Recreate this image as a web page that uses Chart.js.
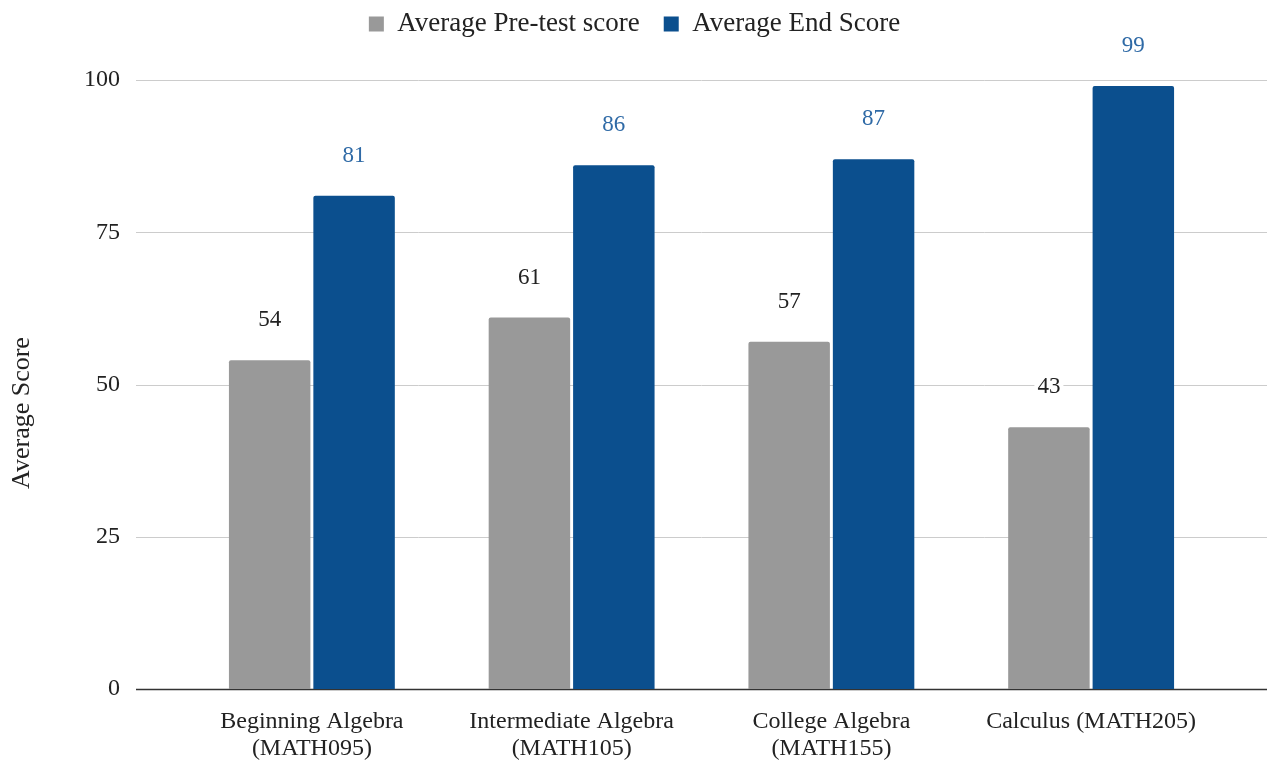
<!DOCTYPE html>
<html>
<head>
<meta charset="utf-8">
<script src="https://cdn.jsdelivr.net/npm/chart.js@4/dist/chart.umd.min.js"></script>
<style>
  html, body { margin: 0; padding: 0; background: #fff; }
  #wrap { width: 1267px; height: 763px; position: relative; }
</style>
</head>
<body>
<div id="wrap"><canvas id="c"></canvas></div>
<script>
const categories = [
  ['Beginning Algebra', '(MATH095)'],
  ['Intermediate Algebra', '(MATH105)'],
  ['College Algebra', '(MATH155)'],
  'Calculus (MATH205)'
];
const preTestScores = [54, 61, 57, 43];
const endScores = [81, 86, 87, 99];
const yTicks = [0, 25, 50, 75, 100];
const yTitle = 'Average Score';

const FONT = "'Liberation Serif', 'DejaVu Serif', serif";
const TEXT = '#222222';
const GRAY = '#999999';
const BLUE = '#0b4f8e';
const BLUE_LABEL = '#2f6aa6';

// Horizontal gridlines that run past the category area, plus the baseline
const gridPlugin = {
  id: 'wideGrid',
  afterLayout(chart) {
    // lift the legend into the top margin and centre it over the page
    const l = chart.legend;
    l.top -= 32.5;
    l.bottom -= 32.5;
    l.left += 24;
    l.right += 24;
  },
  beforeDatasetsDraw(chart) {
    const ctx = chart.ctx;
    const y = chart.scales.y;
    ctx.save();
    yTicks.forEach(v => {
      const py = Math.round(y.getPixelForValue(v)) + 0.5;
      ctx.beginPath();
      ctx.strokeStyle = v === 0 ? '#333333' : '#cccccc';
      ctx.lineWidth = v === 0 ? 1.4 : 1;
      ctx.moveTo(136, py);
      ctx.lineTo(chart.width, py);
      ctx.stroke();
    });
    // vertical axis title
    ctx.font = '26px ' + FONT;
    ctx.fillStyle = TEXT;
    ctx.textAlign = 'center';
    ctx.textBaseline = 'middle';
    ctx.translate(22, 413);
    ctx.rotate(-Math.PI / 2);
    ctx.fillText(yTitle, 0, 0);
    ctx.restore();
  }
};

// Value labels above each bar
const valueLabels = {
  id: 'valueLabels',
  afterDatasetsDraw(chart) {
    const ctx = chart.ctx;
    ctx.save();
    ctx.font = '23px ' + FONT;
    ctx.textAlign = 'center';
    ctx.textBaseline = 'middle';
    chart.data.datasets.forEach((ds, di) => {
      const meta = chart.getDatasetMeta(di);
      meta.data.forEach((bar, i) => {
        const txt = String(ds.data[i]);
        const ty = bar.y - 40;
        const w = ctx.measureText(txt).width;
        ctx.fillStyle = '#ffffff';
        ctx.fillRect(bar.x - w / 2 - 3, ty - 11, w + 6, 22);
        ctx.fillStyle = di === 0 ? TEXT : BLUE_LABEL;
        ctx.fillText(txt, bar.x, ty);
      });
    });
    ctx.restore();
  }
};

new Chart(document.getElementById('c'), {
  type: 'bar',
  data: {
    labels: categories,
    datasets: [
      { label: 'Average Pre-test score', data: preTestScores, backgroundColor: GRAY, borderRadius: 2, categoryPercentage: 0.65, barPercentage: 0.965 },
      { label: 'Average End Score', data: endScores, backgroundColor: BLUE, borderRadius: 2, categoryPercentage: 0.65, barPercentage: 0.965 }
    ]
  },
  options: {
    responsive: true,
    maintainAspectRatio: false,
    animation: false,
    layout: { padding: { left: 0, right: 46, top: 19, bottom: 0 } },
    plugins: {
      legend: {
        position: 'top',
        labels: { font: { family: FONT, size: 27 }, color: TEXT, boxWidth: 15, boxHeight: 15, padding: 24 }
      },
      tooltip: { enabled: false }
    },
    scales: {
      x: {
        grid: { display: false, drawTicks: false },
        border: { display: false },
        ticks: { font: { family: FONT, size: 24, lineHeight: 1.1 }, color: TEXT, padding: 20, maxRotation: 0, autoSkip: false },
        afterFit(scale) { scale.height = 74; scale.paddingLeft = 0; scale.paddingRight = 0; }
      },
      y: {
        min: 0, max: 100,
        afterBuildTicks(scale) { scale.ticks = yTicks.map(v => ({ value: v })); },
        grid: { display: false, drawTicks: false },
        border: { display: false },
        ticks: { font: { family: FONT, size: 24 }, color: TEXT, padding: 62 },
        afterFit(scale) { scale.width = 182; scale.paddingTop = 0; scale.paddingBottom = 0; }
      }
    }
  },
  plugins: [gridPlugin, valueLabels]
});
</script>
</body>
</html>
